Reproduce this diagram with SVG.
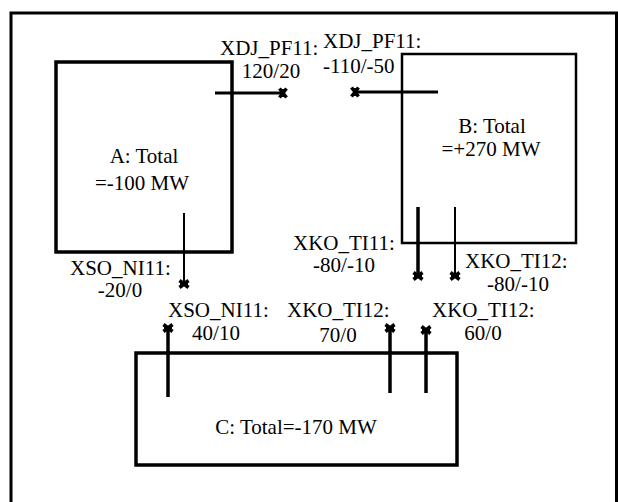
<svg xmlns="http://www.w3.org/2000/svg" width="618" height="502" viewBox="0 0 618 502">
<style>
text{font-family:"Times New Roman","Liberation Serif","DejaVu Serif",Times,serif;font-size:21px;fill:#000}
.box{fill:none;stroke:#000}
.c{stroke:#000;fill:none}
</style>
<defs>
<marker id="xm" markerUnits="userSpaceOnUse" markerWidth="14" markerHeight="14" viewBox="-7 -7 14 14" refX="0" refY="0" orient="auto">
<path d="M-3.5,-4.5 L3.5,4.5 M-3.5,4.5 L3.5,-4.5 M0,-4 V4" stroke="#000" stroke-width="3.5" fill="none"/>
</marker>
</defs>
<rect width="618" height="502" fill="#fff"/>
<path d="M11 502 V13 H616.5 V502" fill="none" stroke="#000" stroke-width="3"/>
<g id="A">
<rect class="box" x="56" y="62" width="176" height="190" stroke-width="3.5"/>
<text x="144" y="163" text-anchor="middle" font-family="Liberation Serif, serif">A: Total</text>
<text x="142" y="190" text-anchor="middle" font-family="Liberation Serif, serif">=-100 MW</text>
</g>
<g id="B">
<rect class="box" x="402" y="54" width="174" height="189" stroke-width="2.5"/>
<text x="492" y="133" text-anchor="middle">B: Total</text>
<text x="491" y="156" text-anchor="middle">=+270 MW</text>
</g>
<g id="C">
<rect class="box" x="136" y="353" width="321" height="112" stroke-width="3.5"/>
<text x="296" y="434" text-anchor="middle">C: Total=-170 MW</text>
</g>
<g id="connectors">
<line class="c" x1="215" y1="93" x2="283" y2="93" stroke-width="3" marker-end="url(#xm)"/>
<line class="c" x1="438" y1="92" x2="355" y2="92" stroke-width="3" marker-end="url(#xm)"/>
<line class="c" x1="184" y1="213" x2="184" y2="284" stroke-width="2" marker-end="url(#xm)"/>
<line class="c" x1="418" y1="207" x2="418" y2="276" stroke-width="3.5" marker-end="url(#xm)"/>
<line class="c" x1="455" y1="207" x2="455" y2="276" stroke-width="2" marker-end="url(#xm)"/>
<line class="c" x1="168" y1="397" x2="168" y2="328" stroke-width="3.5" marker-end="url(#xm)"/>
<line class="c" x1="390" y1="393" x2="390" y2="328" stroke-width="3.5" marker-end="url(#xm)"/>
<line class="c" x1="426" y1="393" x2="426" y2="330" stroke-width="3.5" marker-end="url(#xm)"/>
</g>
<g id="labels">
<text x="220" y="55">XDJ_PF11:</text>
<text x="271" y="78" text-anchor="middle">120/20</text>
<text x="323" y="48">XDJ_PF11:</text>
<text x="323" y="73">-110/-50</text>
<text x="70" y="275">XSO_NI11:</text>
<text x="120" y="297" text-anchor="middle">-20/0</text>
<text x="293" y="250">XKO_TI11:</text>
<text x="344" y="272" text-anchor="middle">-80/-10</text>
<text x="465" y="268">XKO_TI12:</text>
<text x="518" y="291" text-anchor="middle">-80/-10</text>
<text x="168" y="317">XSO_NI11:</text>
<text x="216" y="340" text-anchor="middle">40/10</text>
<text x="287" y="317">XKO_TI12:</text>
<text x="338" y="342" text-anchor="middle">70/0</text>
<text x="432" y="317">XKO_TI12:</text>
<text x="483" y="340" text-anchor="middle">60/0</text>
</g>
</svg>
